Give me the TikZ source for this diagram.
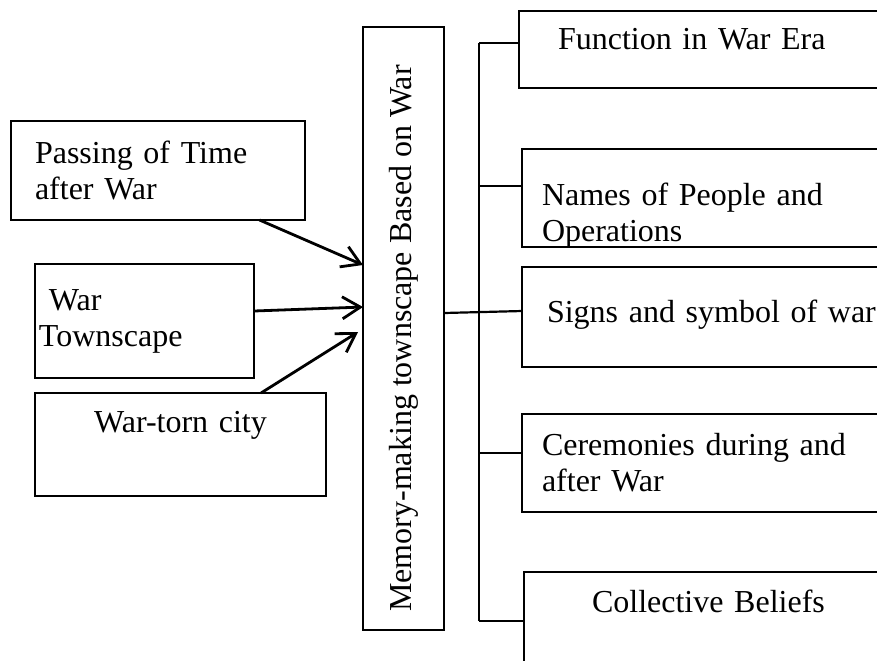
\documentclass[tikz,border=0pt]{standalone}
\usepackage{fontspec}
\setmainfont{Liberation Serif}
\usetikzlibrary{arrows.meta,calc}
\tikzset{
    feed/.style = {
        line width=1.4pt,
        -{Straight Barb[length=9pt, width=11pt]},
        },
    bracket/.style = {
        line width=1.1pt,
        },
}

\begin{document}
\begin{tikzpicture}[
            x=0.5pt, y=-0.5pt,
            every node/.style={draw, line width=0.7pt, inner ysep=0pt, outer sep=0pt, font=\fontsize{16}{18}\selectfont},
            CauseBox/.style={anchor=north west, align=left},
            AspectBox/.style={anchor=north west, align=left, minimum width=220pt},
            ]
            \useasboundingbox (0,0) rectangle (877,660);
            \clip (0,0) rectangle (877,660);

            % what feeds the townscape
            \node [CauseBox, minimum width=147pt, minimum height=49.5pt, text width=123pt, inner xsep=12pt] (time) at (11,121) {Passing of Time\\after War};
            \node [CauseBox, minimum width=109.5pt, minimum height=57pt, text width=105.5pt, inner xsep=2pt] (scape) at (35,264) {\hspace{5pt}War\\Townscape};
            \node [CauseBox, align=center, minimum width=145.5pt, minimum height=51.5pt, text width=135.5pt, inner xsep=5pt, text height=11pt, text depth=23.4pt] (torn) at (35,393) {War-torn city};

            \node [minimum width=40.5pt, minimum height=301.5pt] (memory) at (403.5,328.5) {\rotatebox{90}{Memory-making townscape Based on War\hspace{10pt}}};

            % aspects
            \node [AspectBox, minimum height=38.5pt, text width=181pt, inner xsep=19.5pt, text height=11pt, text depth=11.4pt] (era) at (519,11) {Function in War Era};
            \node [AspectBox, minimum height=49pt, text width=200pt, inner xsep=10pt, text height=15pt, text depth=7.4pt] (names) at (522,149) {Names of People and\\Operations};
            \node [AspectBox, minimum height=50pt, text width=195pt, inner xsep=12.5pt, text height=11pt, text depth=5.4pt] (signs) at (522,267) {Signs and symbol of war};
            \node [AspectBox, minimum height=49pt, text width=200pt, inner xsep=10pt] (rites) at (522,414) {Ceremonies during and\\after War};
            \node [AspectBox, minimum height=54pt, text width=152pt, inner xsep=34pt, text height=11pt, text depth=24.4pt] (beliefs) at (524,572) {Collective Beliefs};

            \coordinate (top) at (479,43);
            \coordinate (tick2) at (479,186);
            \coordinate (tick4) at (479,453);
            \coordinate (bottom) at (479,621);

            \draw[bracket] (top) -- (bottom);
            \draw[bracket] (top) -- (top -| era.west);
            \draw[bracket] (tick2) -- (tick2 -| names.west);
            \draw[bracket] ([yshift=7.75pt]memory.east) -- ([yshift=3pt]signs.west);
            \draw[bracket] (tick4) -- (tick4 -| rites.west);
            \draw[bracket] (bottom) -- (bottom -| beliefs.west);

            \draw[feed] (time.-26) -- ([yshift=31.75pt]memory.west);
            \draw[feed] ([yshift=5pt]scape.east) -- ([yshift=10.75pt]memory.west);
            \draw[feed] ([xshift=40.25pt]torn.north) -- ([xshift=-2.5pt, yshift=-1.75pt]memory.west);
\end{tikzpicture}
\end{document}
